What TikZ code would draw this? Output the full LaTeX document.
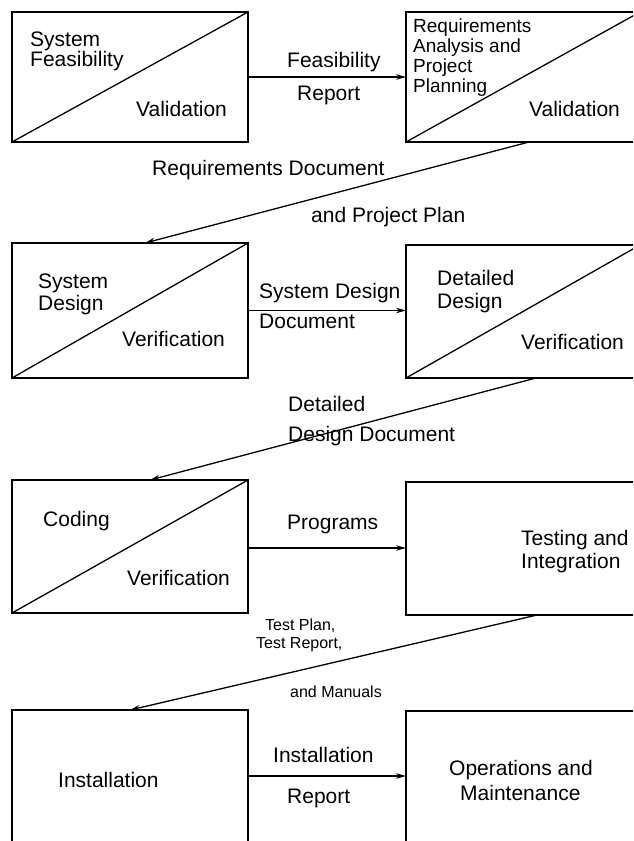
\documentclass[tikz,border=0pt]{standalone}
\usepackage{fontspec}
\setmainfont{Liberation Sans}
\usetikzlibrary{arrows.meta}
\begin{document}
\begin{tikzpicture}[x=1pt,y=-1pt,
  stage/.style={draw, line width=1.4pt, rectangle, inner sep=0pt, outer sep=0pt, anchor=north west},
  txt/.style={anchor=base west, inner sep=0pt, font=\fontsize{21}{23}\selectfont},
  smalltxt/.style={txt, font=\fontsize{19}{20}\selectfont},
  tinytxt/.style={txt, font=\fontsize{16}{18}\selectfont},
  flow/.style={line width=1.3pt, -{Stealth[length=10pt,width=5.5pt]}},
  split/.style={line width=1.3pt}]
\clip (0,0) rectangle (633,841);
\fill[white] (0,0) rectangle (633,841);

% ---- stages ----
\node[stage, minimum width=236pt, minimum height=130pt] (feas) at (12,12) {};
\node[stage, minimum width=234pt, minimum height=130pt] (req)  at (406,12) {};
\node[stage, minimum width=236pt, minimum height=135pt] (sysd) at (12,243) {};
\node[stage, minimum width=234pt, minimum height=133pt] (detd) at (406,245) {};
\node[stage, minimum width=236pt, minimum height=133pt] (code) at (12,480) {};
\node[stage, minimum width=234pt, minimum height=133pt] (test) at (406,482) {};
\node[stage, minimum width=236pt, minimum height=132pt] (inst) at (12,710) {};
\node[stage, minimum width=234pt, minimum height=132pt] (oper) at (406,711) {};

% ---- validation / verification splits ----
\draw[split] (feas.south west) -- (feas.north east);
\draw[split] (req.south west)  -- (req.north east);
\draw[split] (sysd.south west) -- (sysd.north east);
\draw[split] (detd.south west) -- (detd.north east);
\draw[split] (code.south west) -- (code.north east);

% ---- stage texts ----
\node[txt] (feas1) at (30,46)  {System};
\node[txt] (feas2) at (30,66)  {Feasibility};
\node[txt] (feas3) at (136,116) {Validation};

\node[smalltxt] (req1) at (413,32) {Requirements};
\node[smalltxt] (req2) at (413,52) {Analysis and};
\node[smalltxt] (req3) at (413,72) {Project};
\node[smalltxt] (req4) at (413,92) {Planning};
\node[txt] (req5) at (529,116) {Validation};

\node[txt] (sysd1) at (38,288)  {System};
\node[txt] (sysd2) at (38,310)  {Design};
\node[txt] (sysd3) at (122,346) {Verification};

\node[txt] (detd1) at (437,285) {Detailed};
\node[txt] (detd2) at (437,308) {Design};
\node[txt] (detd3) at (521,349) {Verification};

\node[txt] (code1) at (43,526)  {Coding};
\node[txt] (code2) at (127,585) {Verification};

\node[txt] (test1) at (521,545) {Testing and};
\node[txt] (test2) at (521,568) {Integration};

\node[txt] (inst1) at (58,787) {Installation};

\node[txt] (oper1) at (449,775) {Operations and};
\node[txt] (oper2) at (460,800) {Maintenance};

% ---- hand-over arrows ----
\draw[flow] (feas.east) -- (feas.east -| req.west);
\draw[flow] (sysd.east) -- (sysd.east -| detd.west);
\draw[flow] ([yshift=-1.5pt]code.east) -- ([yshift=-1.5pt]code.east -| test.west);
\draw[flow] (inst.east) -- (inst.east -| oper.west);

\draw[flow] ([xshift=123pt]req.south west)  -- ([xshift=133pt]sysd.north west);
\draw[flow] ([xshift=130pt]detd.south west) -- ([xshift=138pt]code.north west);
\draw[flow] ([xshift=131pt]test.south west) -- ([xshift=118pt]inst.north west);

% ---- document labels ----
\node[txt] (l1a) at (287,67)  {Feasibility};
\node[txt] (l1b) at (297,100) {Report};

\node[txt] (l2a) at (152,175) {Requirements Document};
\node[txt] (l2b) at (311,222) {and Project Plan};

\node[txt] (l3a) at (259,298) {System Design};
\node[txt] (l3b) at (259,328) {Document};

\node[txt] (l4a) at (288,411) {Detailed};
\node[txt] (l4b) at (288,441) {Design Document};

\node[txt] (l5a) at (287,529) {Programs};

\node[tinytxt] (l6a) at (265,630) {Test Plan,};
\node[tinytxt] (l6b) at (256,648) {Test Report,};
\node[tinytxt] (l6c) at (290,697) {and Manuals};

\node[txt] (l7a) at (273,762) {Installation};
\node[txt] (l7b) at (287,803) {Report};
\end{tikzpicture}
\end{document}
